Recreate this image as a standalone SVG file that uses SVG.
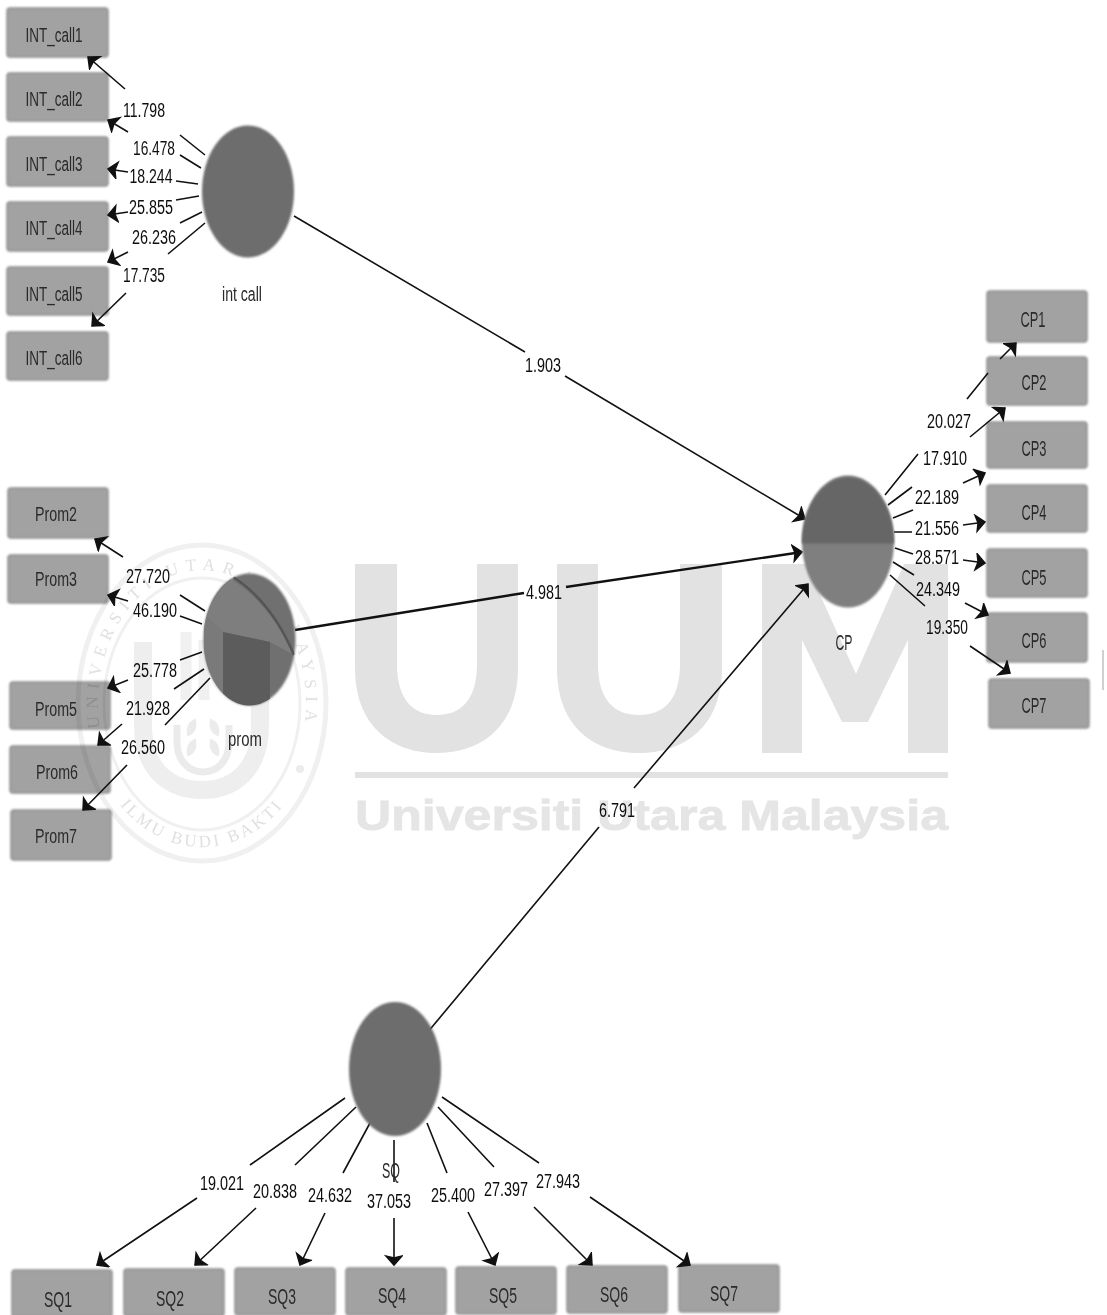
<svg xmlns="http://www.w3.org/2000/svg" width="1107" height="1315" viewBox="0 0 1107 1315">
<style>
.wm{fill:#e2e2e2}
.wt{font:bold 42px "Liberation Sans",Arial,sans-serif;fill:#e5e5e5;stroke:#e5e5e5;stroke-width:.8}
.st{font:17px "Liberation Serif",serif;fill:#e0e0e0}
.box{fill:#a2a2a2;stroke:#8e8e8e;stroke-width:1.5;filter:url(#soft)}
.lv{fill:#6d6d6d;filter:url(#soft)}
.n{font:20px "Liberation Sans",Arial,sans-serif;fill:#2a2a2a;text-anchor:middle;filter:url(#tx)}
.b{font-size:22px}
.l{font:20px "Liberation Sans",Arial,sans-serif;fill:#111;text-anchor:middle;filter:url(#tx)}
.c{fill:none;stroke:#111;stroke-width:1.6}
</style>
<defs>
<filter id="soft" x="-10%" y="-10%" width="120%" height="120%"><feGaussianBlur stdDeviation="1"/></filter>
<filter id="tx" x="-10%" y="-20%" width="120%" height="140%"><feGaussianBlur stdDeviation="0.35"/></filter>
<marker id="ah" markerUnits="userSpaceOnUse" markerWidth="16" markerHeight="20" refX="12" refY="9" orient="auto"><path d="M3 1L12 9L3 17L5 9Z" fill="#111" stroke="#111" stroke-width="1.500"/></marker>
<clipPath id="pc"><ellipse cx="249.500" cy="639.500" rx="46" ry="66"/></clipPath>
<path id="sealTop" d="M108 760A104 133 0 1 1 296 760"/>
<path id="sealBot" d="M86 703A116 144 0 0 0 318 703"/>
</defs>
<rect width="1107" height="1315" fill="#fff"/>
<g id="watermark">
<path class="wm" d="M355 564h42v100c0 38 18 51 40 51s40-13 40-51V564h41v104c0 58-36 85-81 85s-82-27-82-85Z"/>
<path class="wm" d="M557 564h41v100c0 38 18 51 41 51s41-13 41-51V564h42v104c0 58-37 85-83 85s-82-27-82-85Z"/>
<path class="wm" d="M762 564h44l50 110 48-110h44v189h-40V640l-40 82h-26l-40-82v113h-40Z"/>
<rect class="wm" x="355" y="772" width="593" height="6"/>
<text class="wt" x="355" y="830" textLength="593" lengthAdjust="spacingAndGlyphs">Universiti Utara Malaysia</text>
<rect x="1102" y="650" width="2" height="40" fill="#d0d0d0"/>
</g>
<g id="node-int-call-items">
<g id="INT_call1"><rect class="box" x="7" y="8" width="101" height="49" rx="3"/><text class="n" x="54" y="42" textLength="57" lengthAdjust="spacingAndGlyphs">INT_call1</text></g>
<g id="INT_call2"><rect class="box" x="7" y="73" width="101" height="48" rx="3"/><text class="n" x="54" y="106" textLength="57" lengthAdjust="spacingAndGlyphs">INT_call2</text></g>
<g id="INT_call3"><rect class="box" x="7" y="137" width="101" height="49" rx="3"/><text class="n" x="54" y="171" textLength="57" lengthAdjust="spacingAndGlyphs">INT_call3</text></g>
<g id="INT_call4"><rect class="box" x="7" y="202" width="101" height="49" rx="3"/><text class="n" x="54" y="235" textLength="57" lengthAdjust="spacingAndGlyphs">INT_call4</text></g>
<g id="INT_call5"><rect class="box" x="7" y="267" width="101" height="48" rx="3"/><text class="n" x="54" y="301" textLength="57" lengthAdjust="spacingAndGlyphs">INT_call5</text></g>
<g id="INT_call6"><rect class="box" x="7" y="332" width="101" height="48" rx="3"/><text class="n" x="54" y="365" textLength="57" lengthAdjust="spacingAndGlyphs">INT_call6</text></g>
</g>
<g id="node-prom-items">
<g id="Prom2"><rect class="box" x="8" y="488" width="100" height="50" rx="3"/><text class="n" x="56" y="521" textLength="42" lengthAdjust="spacingAndGlyphs">Prom2</text></g>
<g id="Prom3"><rect class="box" x="8" y="555" width="100" height="48" rx="3"/><text class="n" x="56" y="586" textLength="42" lengthAdjust="spacingAndGlyphs">Prom3</text></g>
<g id="Prom5"><rect class="box" x="10" y="682" width="100" height="47" rx="3"/><text class="n" x="56" y="716" textLength="42" lengthAdjust="spacingAndGlyphs">Prom5</text></g>
<g id="Prom6"><rect class="box" x="10" y="746" width="100" height="47" rx="3"/><text class="n" x="57" y="779" textLength="42" lengthAdjust="spacingAndGlyphs">Prom6</text></g>
<g id="Prom7"><rect class="box" x="11" y="810" width="100" height="50" rx="3"/><text class="n" x="56" y="843" textLength="42" lengthAdjust="spacingAndGlyphs">Prom7</text></g>
</g>
<g id="node-cp-items">
<g id="CP1"><rect class="box" x="987" y="291" width="100" height="51" rx="3"/><text class="n b" x="1033" y="327" textLength="25" lengthAdjust="spacingAndGlyphs">CP1</text></g>
<g id="CP2"><rect class="box" x="987" y="357" width="100" height="48" rx="3"/><text class="n b" x="1034" y="390" textLength="25" lengthAdjust="spacingAndGlyphs">CP2</text></g>
<g id="CP3"><rect class="box" x="987" y="422" width="100" height="46" rx="3"/><text class="n b" x="1034" y="456" textLength="25" lengthAdjust="spacingAndGlyphs">CP3</text></g>
<g id="CP4"><rect class="box" x="987" y="485" width="100" height="47" rx="3"/><text class="n b" x="1034" y="520" textLength="25" lengthAdjust="spacingAndGlyphs">CP4</text></g>
<g id="CP5"><rect class="box" x="987" y="549" width="100" height="48" rx="3"/><text class="n b" x="1034" y="585" textLength="25" lengthAdjust="spacingAndGlyphs">CP5</text></g>
<g id="CP6"><rect class="box" x="987" y="613" width="100" height="49" rx="3"/><text class="n b" x="1034" y="648" textLength="25" lengthAdjust="spacingAndGlyphs">CP6</text></g>
<g id="CP7"><rect class="box" x="989" y="679" width="100" height="49" rx="3"/><text class="n b" x="1034" y="713" textLength="25" lengthAdjust="spacingAndGlyphs">CP7</text></g>
</g>
<g id="node-sq-items">
<g id="SQ1"><rect class="box" x="12" y="1270" width="100" height="47" rx="3"/><text class="n b" x="58" y="1307" textLength="28" lengthAdjust="spacingAndGlyphs">SQ1</text></g>
<g id="SQ2"><rect class="box" x="124" y="1269" width="100" height="47" rx="3"/><text class="n b" x="170" y="1306" textLength="28" lengthAdjust="spacingAndGlyphs">SQ2</text></g>
<g id="SQ3"><rect class="box" x="235" y="1268" width="100" height="47" rx="3"/><text class="n b" x="282" y="1304" textLength="28" lengthAdjust="spacingAndGlyphs">SQ3</text></g>
<g id="SQ4"><rect class="box" x="346" y="1268" width="100" height="47" rx="3"/><text class="n b" x="392" y="1303" textLength="28" lengthAdjust="spacingAndGlyphs">SQ4</text></g>
<g id="SQ5"><rect class="box" x="456" y="1267" width="100" height="47" rx="3"/><text class="n b" x="503" y="1303" textLength="28" lengthAdjust="spacingAndGlyphs">SQ5</text></g>
<g id="SQ6"><rect class="box" x="567" y="1266" width="100" height="47" rx="3"/><text class="n b" x="614" y="1302" textLength="28" lengthAdjust="spacingAndGlyphs">SQ6</text></g>
<g id="SQ7"><rect class="box" x="679" y="1265" width="100" height="47" rx="3"/><text class="n b" x="724" y="1301" textLength="28" lengthAdjust="spacingAndGlyphs">SQ7</text></g>
</g>
<g id="connectors">
<path class="c" d="M205 155L180 135M125 89L88 57" marker-end="url(#ah)"/>
<path class="c" d="M201 168L180 155M128 132L108 120" marker-end="url(#ah)"/>
<path class="c" d="M198 184L176 181M128 172L108 169" marker-end="url(#ah)"/>
<path class="c" d="M199 196L176 200M128 212L108 215" marker-end="url(#ah)"/>
<path class="c" d="M202 212L180 223M128 252L108 262" marker-end="url(#ah)"/>
<path class="c" d="M205 223L168 254M126 293L92 326" marker-end="url(#ah)"/>
<path class="c" d="M205 611L180 595M123 557L95 539" marker-end="url(#ah)"/>
<path class="c" d="M202 624L180 616M128 601L108 595" marker-end="url(#ah)"/>
<path class="c" d="M202 652L180 660M128 680L108 688" marker-end="url(#ah)"/>
<path class="c" d="M204 669L174 689M122 724L98 745" marker-end="url(#ah)"/>
<path class="c" d="M210 678L165 725M127 765L83 810" marker-end="url(#ah)"/>
<path class="c" d="M885 495L918 454M967 399L988 373M1000 359L1016 343" marker-end="url(#ah)"/>
<path class="c" d="M888 505L912 487M970 437L1005 408" marker-end="url(#ah)"/>
<path class="c" d="M893 518L913 510M963 483L985 473" marker-end="url(#ah)"/>
<path class="c" d="M894 532L912 532M963 525L985 522" marker-end="url(#ah)"/>
<path class="c" d="M895 548L913 554M963 560L985 563" marker-end="url(#ah)"/>
<path class="c" d="M893 562L914 575M965 603L988 615" marker-end="url(#ah)"/>
<path class="c" d="M890 575L925 606M970 646L1010 673" marker-end="url(#ah)"/>
<path class="c" d="M345 1098L250 1165M197 1198L97 1265" marker-end="url(#ah)"/>
<path class="c" d="M356 1107L295 1165M256 1208L195 1265" marker-end="url(#ah)"/>
<path class="c" d="M370 1123L343 1173M325 1213L300 1265" marker-end="url(#ah)"/>
<path class="c" d="M394 1140L394 1182M394 1218L394 1265" marker-end="url(#ah)"/>
<path class="c" d="M427 1123L447 1173M468 1212L495 1265" marker-end="url(#ah)"/>
<path class="c" d="M438 1107L494 1167M534 1207L592 1265" marker-end="url(#ah)"/>
<path class="c" d="M442 1097L539 1163M590 1197L690 1265" marker-end="url(#ah)"/>
<path class="c" d="M294 216L525 352M565 376L805 519" marker-end="url(#ah)"/>
<path class="c" style="stroke-width:2.400" d="M295 630L524 593M566 587L802 552" marker-end="url(#ah)"/>
<path class="c" d="M427 1033L599 827M634 788L808 584" marker-end="url(#ah)"/>
</g>
<g id="seal" style="mix-blend-mode:multiply">
<ellipse cx="202" cy="703" rx="124" ry="158" fill="none" stroke="#f0f0f0" stroke-width="5"/>
<ellipse cx="202" cy="704" rx="98" ry="126" fill="none" stroke="#f0f0f0" stroke-width="3"/>
<text class="st" letter-spacing="7"><textPath href="#sealTop" startOffset="50%" text-anchor="middle">UNIVERSITI UTARA MALAYSIA</textPath></text>
<text class="st" letter-spacing="3"><textPath href="#sealBot" startOffset="50%" text-anchor="middle">ILMU BUDI BAKTI</textPath></text>
<path d="M143 642V725C143 770 170 790 202 790S260 770 260 725V690" fill="none" stroke="#eeeeee" stroke-width="18"/>
<path d="M177 725V742C177 762 190 772 203 772S229 762 229 742V725" fill="none" stroke="#ebebeb" stroke-width="7"/>
<path d="M186 632V700M204 640V700" fill="none" stroke="#f0f0f0" stroke-width="11"/>
<path d="M195 720q-9 4-7 15q9-3 7-15ZM211 720q9 4 7 15q-9-3-7-15ZM195 740q-9 4-7 15q9-3 7-15ZM211 740q9 4 7 15q-9-3-7-15Z" fill="#ebebeb" stroke="#ebebeb" stroke-width="2"/>
<circle cx="300" cy="769" r="4" fill="#ececec"/>
</g>
<g id="node-int-call"><ellipse class="lv" cx="248" cy="191.500" rx="46" ry="66"/><text class="n" x="242" y="301" textLength="40" lengthAdjust="spacingAndGlyphs">int call</text></g>
<g id="node-prom">
<ellipse class="lv" cx="249.500" cy="639.500" rx="46" ry="66" style="fill:#707070"/>
<g clip-path="url(#pc)">
<path d="M204 614L226 576Q268 600 294 655L270 642L223 632Z" fill="#7e7e7e"/>
<path d="M204 614L223 632V710H204Z" fill="#7a7a7a"/>
<path d="M223 632L270 642V710H223Z" fill="#5c5c5c"/>
<path d="M228 574Q270 598 294 655" fill="none" stroke="#555" stroke-width="2.500"/>
</g>
<text class="n" x="245" y="746" textLength="34" lengthAdjust="spacingAndGlyphs">prom</text>
</g>
<g id="node-cp">
<ellipse class="lv" cx="848" cy="541.500" rx="46" ry="66" style="fill:#7f7f7f"/>
<path d="M802 543.500A46 66 0 0 1 894 543.500Z" fill="#666" filter="url(#soft)"/>
<text class="n b" x="844" y="650" textLength="17" lengthAdjust="spacingAndGlyphs">CP</text>
</g>
<g id="node-sq"><ellipse class="lv" cx="395" cy="1069" rx="46" ry="67"/><text class="n b" x="391" y="1178" textLength="18" lengthAdjust="spacingAndGlyphs">SQ</text></g>
<g id="labels">
<text class="l" x="144" y="117" textLength="42" lengthAdjust="spacingAndGlyphs">11.798</text>
<text class="l" x="154" y="155" textLength="42" lengthAdjust="spacingAndGlyphs">16.478</text>
<text class="l" x="151" y="183" textLength="43" lengthAdjust="spacingAndGlyphs">18.244</text>
<text class="l" x="151" y="214" textLength="44" lengthAdjust="spacingAndGlyphs">25.855</text>
<text class="l" x="154" y="244" textLength="44" lengthAdjust="spacingAndGlyphs">26.236</text>
<text class="l" x="144" y="282" textLength="42" lengthAdjust="spacingAndGlyphs">17.735</text>
<text class="l" x="148" y="583" textLength="44" lengthAdjust="spacingAndGlyphs">27.720</text>
<text class="l" x="155" y="617" textLength="44" lengthAdjust="spacingAndGlyphs">46.190</text>
<text class="l" x="155" y="677" textLength="44" lengthAdjust="spacingAndGlyphs">25.778</text>
<text class="l" x="148" y="715" textLength="44" lengthAdjust="spacingAndGlyphs">21.928</text>
<text class="l" x="143" y="754" textLength="44" lengthAdjust="spacingAndGlyphs">26.560</text>
<text class="l" x="949" y="428" textLength="44" lengthAdjust="spacingAndGlyphs">20.027</text>
<text class="l" x="945" y="465" textLength="44" lengthAdjust="spacingAndGlyphs">17.910</text>
<text class="l" x="937" y="504" textLength="44" lengthAdjust="spacingAndGlyphs">22.189</text>
<text class="l" x="937" y="535" textLength="44" lengthAdjust="spacingAndGlyphs">21.556</text>
<text class="l" x="937" y="564" textLength="44" lengthAdjust="spacingAndGlyphs">28.571</text>
<text class="l" x="938" y="596" textLength="44" lengthAdjust="spacingAndGlyphs">24.349</text>
<text class="l" x="947" y="634" textLength="42" lengthAdjust="spacingAndGlyphs">19.350</text>
<text class="l" x="222" y="1190" textLength="44" lengthAdjust="spacingAndGlyphs">19.021</text>
<text class="l" x="275" y="1198" textLength="44" lengthAdjust="spacingAndGlyphs">20.838</text>
<text class="l" x="330" y="1202" textLength="44" lengthAdjust="spacingAndGlyphs">24.632</text>
<text class="l" x="389" y="1208" textLength="44" lengthAdjust="spacingAndGlyphs">37.053</text>
<text class="l" x="453" y="1202" textLength="44" lengthAdjust="spacingAndGlyphs">25.400</text>
<text class="l" x="506" y="1196" textLength="44" lengthAdjust="spacingAndGlyphs">27.397</text>
<text class="l" x="558" y="1188" textLength="44" lengthAdjust="spacingAndGlyphs">27.943</text>
<text class="l" x="543" y="372" textLength="36" lengthAdjust="spacingAndGlyphs">1.903</text>
<text class="l" x="544" y="599" textLength="36" lengthAdjust="spacingAndGlyphs">4.981</text>
<text class="l" x="617" y="817" textLength="36" lengthAdjust="spacingAndGlyphs">6.791</text>
</g>
</svg>
